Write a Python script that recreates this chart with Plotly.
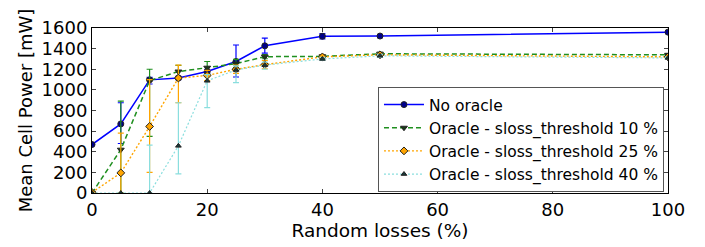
import plotly.graph_objects as go

x = [0, 5, 10, 15, 20, 25, 30, 40, 50, 100]

no_oracle = [470, 670, 1097, 1115, 1178, 1275, 1427, 1520, 1522, 1560]
no_oracle_up = [0, 205, 25, 15, 20, 160, 75, 25, 15, 10]
no_oracle_dn = [0, 190, 40, 15, 20, 150, 70, 25, 15, 10]

th10 = [0, 420, 1090, 1178, 1215, 1255, 1322, 1325, 1350, 1340]
th10_up = [0, 470, 110, 60, 60, 40, 20, 15, 15, 10]
th10_dn = [0, 420, 540, 60, 60, 40, 20, 15, 15, 10]

th25 = [5, 195, 645, 1115, 1140, 1200, 1245, 1320, 1340, 1320]
th25_up = [0, 385, 455, 125, 50, 40, 40, 15, 15, 10]
th25_dn = [5, 195, 445, 240, 50, 40, 40, 15, 15, 10]

th40 = [0, 0, 0, 457, 1088, 1193, 1240, 1300, 1330, 1310]
th40_up = [0, 0, 464, 418, 60, 40, 30, 15, 15, 10]
th40_dn = [0, 0, 0, 272, 261, 123, 40, 15, 15, 10]

labels = ["No oracle", "Oracle - sloss_threshold 10 %",
          "Oracle - sloss_threshold 25 %", "Oracle - sloss_threshold 40 %"]

series = [
    (labels[0], no_oracle, no_oracle_up, no_oracle_dn, "#0000ff", "solid", "circle", "#00008b", 6, 1.5),
    (labels[1], th10, th10_up, th10_dn, "#1f8f1f", "5px,3px", "triangle-down", "#1a3a1a", 6, 1.5),
    (labels[2], th25, th25_up, th25_dn, "#ffa500", "2px,2px", "diamond", "#ffa500", 6, 1.4),
    (labels[3], th40, th40_up, th40_dn, "#8adede", "2px,2px", "triangle-up", "#1a3a3a", 5, 1.2),
]

fig = go.Figure()
for name, y, up, dn, col, dash, sym, mcol, msz, lw in series:
    fig.add_trace(go.Scatter(
        x=x, y=y, name=name, mode="lines+markers",
        line=dict(color=col, width=lw, dash=dash),
        marker=dict(symbol=sym, size=msz, color=mcol,
                    line=dict(color="#222222", width=1)),
        error_y=dict(type="data", symmetric=False, array=up, arrayminus=dn,
                     color=col, thickness=1.2, width=3),
    ))

fig.update_layout(
    width=697, height=239,
    margin=dict(l=84, r=37, t=9, b=54),
    paper_bgcolor="white", plot_bgcolor="white",
    font=dict(family="DejaVu Sans", size=16, color="black"),
    showlegend=True,
    legend=dict(x=0.4965, y=0.006, xanchor="left", yanchor="bottom",
                bordercolor="#555555", borderwidth=1, bgcolor="white",
                font=dict(size=15.5, family="DejaVu Sans"),
                tracegroupgap=0, itemwidth=40),
)
fig.update_xaxes(range=[0, 100], tickvals=[0, 20, 40, 60, 80, 100],
                 ticks="inside", ticklen=4, showline=True, linecolor="black",
                 mirror="ticks", showgrid=False, zeroline=False,
                 ticklabeloverflow="allow",
                 title=dict(text="Random losses (%)", standoff=3,
                            font=dict(size=18.5)),
                 tickfont=dict(size=18))
fig.update_yaxes(range=[0, 1600], tickvals=list(range(0, 1601, 200)),
                 ticks="inside", ticklen=4, showline=True, linecolor="black",
                 mirror="ticks", showgrid=False, zeroline=False,
                 ticklabeloverflow="allow",
                 title=dict(text="Mean Cell Power [mW]", standoff=4,
                            font=dict(size=18)),
                 tickfont=dict(size=18))

fig.write_html("out.html")
